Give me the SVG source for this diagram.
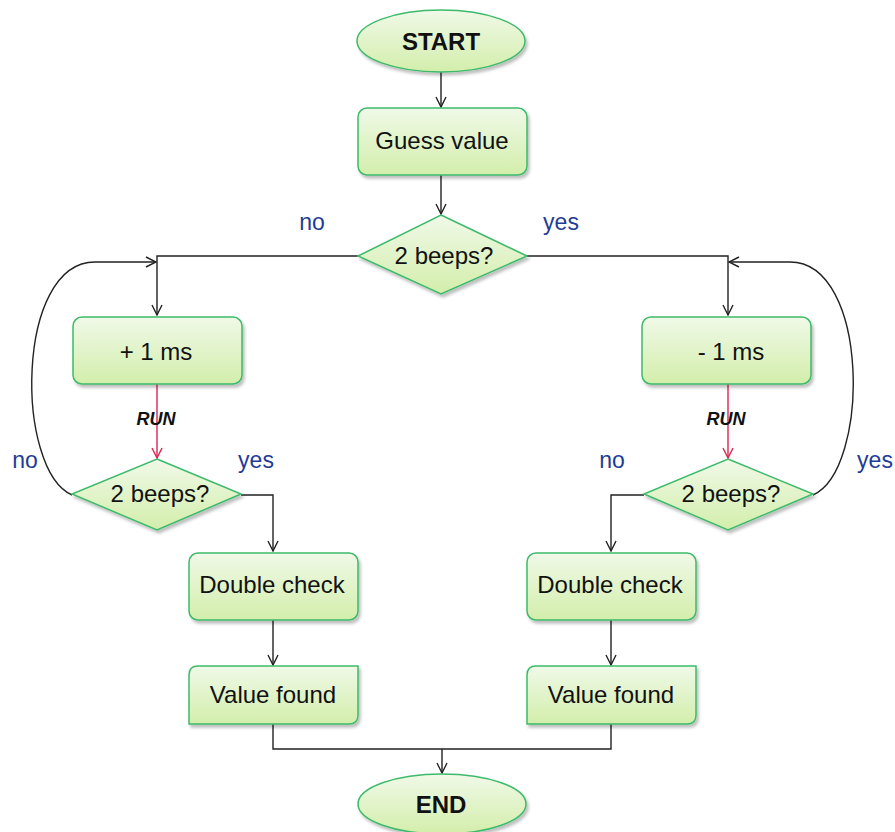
<svg xmlns="http://www.w3.org/2000/svg" width="895" height="832" viewBox="0 0 895 832">
<defs>
<linearGradient id="g" x1="0" y1="0" x2="0" y2="1">
<stop offset="0" stop-color="#f0f9e8"/>
<stop offset="1" stop-color="#d3eeab"/>
</linearGradient>
<filter id="sh" x="-10%" y="-10%" width="125%" height="130%">
<feDropShadow dx="2" dy="3" stdDeviation="1.5" flood-color="#000" flood-opacity="0.25"/>
</filter>
<marker id="a" viewBox="0 0 12 12" refX="11" refY="6" markerWidth="12" markerHeight="12" markerUnits="userSpaceOnUse" orient="auto">
<path d="M1,1 L11,6 L1,11" fill="none" stroke="#222" stroke-width="1.4"/>
</marker>
<marker id="ar" viewBox="0 0 12 12" refX="11" refY="6" markerWidth="12" markerHeight="12" markerUnits="userSpaceOnUse" orient="auto">
<path d="M1,1 L11,6 L1,11" fill="none" stroke="#e0234f" stroke-width="1.4"/>
</marker>
</defs>
<style>
.n{fill:url(#g);stroke:#3dba6a;stroke-width:1.5;filter:url(#sh)}
.t{font-family:"Liberation Sans",Arial,sans-serif;font-size:24px;fill:#111;text-anchor:middle}
.b{font-weight:bold}
.l{font-family:"Liberation Sans",Arial,sans-serif;font-size:23px;fill:#1f3c96;text-anchor:middle}
.c{fill:none;stroke:#222;stroke-width:1.4}
.r{fill:none;stroke:#e0234f;stroke-width:1.4}
.run{font-family:"Liberation Sans",Arial,sans-serif;font-size:18px;font-weight:bold;font-style:italic;fill:#111;text-anchor:middle}
</style>

<g id="connectors">
<path class="c" d="M441,72 L441,107" marker-end="url(#a)"/>
<path class="c" d="M441,175 L441,214" marker-end="url(#a)"/>
<path class="c" d="M358,256 L157,256 L157,315" marker-end="url(#a)"/>
<path class="c" d="M527,256 L728,256 L728,315" marker-end="url(#a)"/>
<path class="r" d="M157,384 L157,458" marker-end="url(#ar)"/>
<path class="r" d="M728,384 L728,458" marker-end="url(#ar)"/>
<path class="c" d="M72,495 C15,470 15,262 95,262 L156,262" marker-end="url(#a)"/>
<path class="c" d="M813,495 C870,470 870,262 790,262 L729,262" marker-end="url(#a)"/>
<path class="c" d="M241,495 L273,495 L273,551" marker-end="url(#a)"/>
<path class="c" d="M644,495 L611,495 L611,551" marker-end="url(#a)"/>
<path class="c" d="M273,620 L273,665" marker-end="url(#a)"/>
<path class="c" d="M611,620 L611,665" marker-end="url(#a)"/>
<path class="c" d="M273,724 L273,749 L611,749 L611,724"/>
<path class="c" d="M442,749 L442,773" marker-end="url(#a)"/>
</g>

<g id="start">
<ellipse class="n" cx="441" cy="41" rx="84" ry="31"/>
<text class="t b" x="441" y="50">START</text>
</g>
<g id="guess">
<rect class="n" x="358" y="108" width="169" height="67" rx="9"/>
<text class="t" x="442" y="149">Guess value</text>
</g>
<g id="d1">
<polygon class="n" points="441,215 527,256 441,294 358,256"/>
<text class="t" x="444" y="264">2 beeps?</text>
</g>
<g id="plus">
<rect class="n" x="73" y="317" width="169" height="67" rx="9"/>
<text class="t" x="156" y="360">+ 1 ms</text>
</g>
<g id="minus">
<rect class="n" x="642" y="317" width="169" height="67" rx="9"/>
<text class="t" x="731" y="360">- 1 ms</text>
</g>
<g id="d2">
<polygon class="n" points="157,459 241,494 157,530 72,494"/>
<text class="t" x="160" y="502">2 beeps?</text>
</g>
<g id="d3">
<polygon class="n" points="728,459 813,494 728,530 644,494"/>
<text class="t" x="731" y="502">2 beeps?</text>
</g>
<g id="dc1">
<rect class="n" x="189" y="553" width="169" height="67" rx="9"/>
<text class="t" x="272" y="593">Double check</text>
</g>
<g id="dc2">
<rect class="n" x="527" y="553" width="169" height="67" rx="9"/>
<text class="t" x="610" y="593">Double check</text>
</g>
<g id="vf1">
<path class="n" d="M198,666 L358,666 L358,715 Q358,724 349,724 L189,724 L189,675 Q189,666 198,666 Z"/>
<text class="t" x="273" y="703">Value found</text>
</g>
<g id="vf2">
<path class="n" d="M536,666 L696,666 L696,715 Q696,724 687,724 L527,724 L527,675 Q527,666 536,666 Z"/>
<text class="t" x="611" y="703">Value found</text>
</g>
<g id="end">
<ellipse class="n" cx="442" cy="804" rx="84" ry="30"/>
<text class="t b" x="441" y="813">END</text>
</g>

<g id="labels">
<text class="l" x="312" y="230">no</text>
<text class="l" x="561" y="230">yes</text>
<text class="l" x="25" y="468">no</text>
<text class="l" x="256" y="468">yes</text>
<text class="l" x="612" y="468">no</text>
<text class="l" x="875" y="468">yes</text>
<text class="run" x="156" y="425">RUN</text>
<text class="run" x="726" y="425">RUN</text>
</g>
</svg>
